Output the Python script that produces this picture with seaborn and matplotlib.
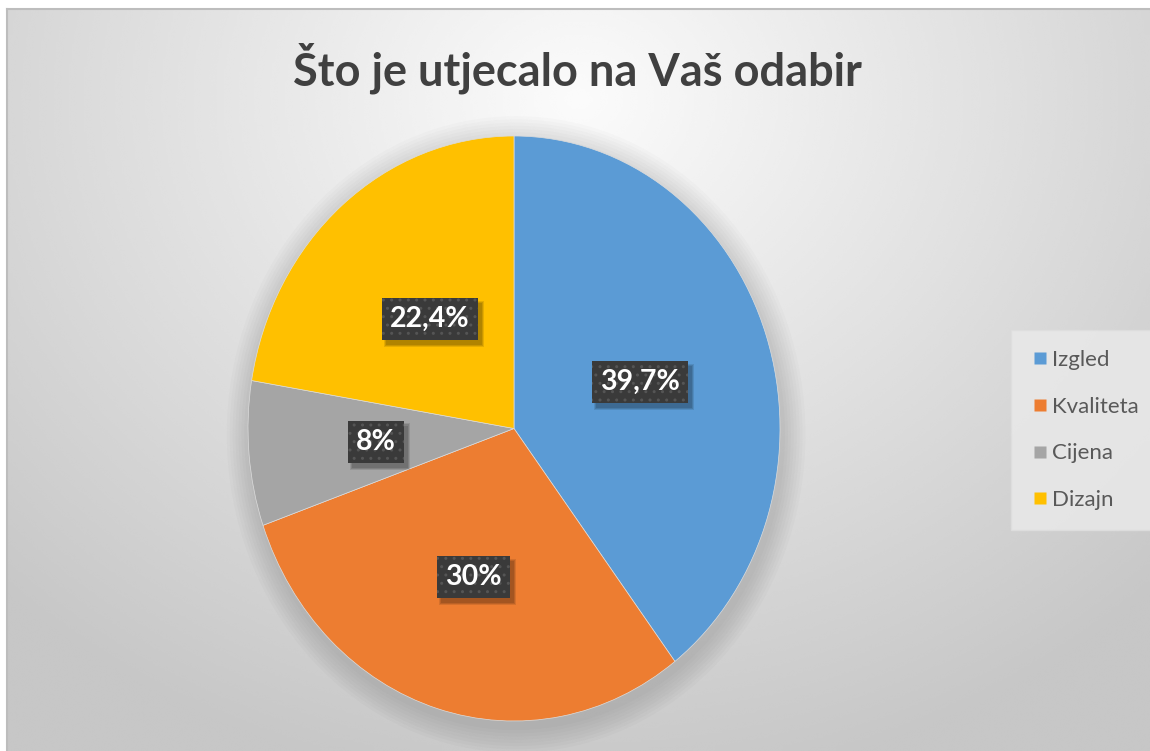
import numpy as np
import seaborn as sns
import matplotlib.pyplot as plt
from matplotlib.patches import Ellipse, Rectangle
from matplotlib.lines import Line2D

# data
categories = ['Izgled', 'Kvaliteta', 'Cijena', 'Dizajn']
shares = [39.7, 30.0, 8.0, 22.4]
pct_labels = ['39,7%', '30%', '8%', '22,4%']
slice_colors = ['#5b9bd5', '#ed7d31', '#a5a5a5', '#ffc000']
title_text = 'Što je utjecalo na Vaš odabir'

sns.set_theme(style='white')
# Lato is the closest installed match to the Calibri look of the original
plt.rcParams['font.family'] = ['Lato', 'DejaVu Sans']

W, H = 1150, 751
fig = plt.figure(figsize=(W / 100, H / 100), dpi=100)
fig.patch.set_facecolor('white')


def fx(px):
    return px / W


def fy(py):
    return 1 - py / H


# background with radial gradient (lighter near the top centre)
bg = fig.add_axes([fx(7), 0, 1 - fx(7), fy(9)])
yy, xx = np.mgrid[0:1:300j, 0:1:450j]
d = np.sqrt(((xx - 0.5) / 0.8) ** 2 + ((yy - 0.12) / 1.05) ** 2)
shade = np.clip(0.985 - 0.23 * d, 0.78, 1.0)
bg.imshow(shade, cmap='gray', vmin=0, vmax=1, aspect='auto',
          extent=[0, 1, 1, 0], interpolation='bicubic')
bg.set_xlim(0, 1)
bg.set_ylim(1, 0)
bg.set_xticks([])
bg.set_yticks([])
for side, sp in bg.spines.items():
    sp.set_visible(side in ('top', 'left'))
    sp.set_color('#bdbdbd')
    sp.set_linewidth(1.5)

# title
fig.text(fx(577), fy(68), title_text, ha='center', va='center',
         fontsize=32.5, fontweight='bold', color='#404040')

# pie (stretched into an ellipse like the original)
left, right, top, bottom = 248, 780, 136, 721
ax = fig.add_axes([fx(left), fy(bottom), fx(right - left), (bottom - top) / H])
ax.patch.set_alpha(0)

# soft shadow around the pie
for k in range(8):
    grow = 0.011 * (k + 1)
    ax.add_patch(Ellipse((0.008, -0.02), 2 + grow * 2, 2 + grow * 2,
                         facecolor='black', edgecolor='none', alpha=0.017,
                         zorder=0, clip_on=False))

wedges, _ = ax.pie(shares, colors=slice_colors, startangle=90, counterclock=False,
                   radius=1, wedgeprops=dict(linewidth=0.5, edgecolor='#dddddd'))
for w in wedges:
    w.set_zorder(2)
    w.set_clip_on(False)
ax.set_aspect('auto')
ax.set_xlim(-1, 1)
ax.set_ylim(-1, 1)
ax.axis('off')

# data labels in dark dotted boxes
total = sum(shares)
start = 90.0
label_r = [0.50, 0.53, 0.52, 0.49]
label_texts = []
for share, txt, r in zip(shares, pct_labels, label_r):
    mid = np.deg2rad(start - share / total * 360 / 2)
    start -= share / total * 360
    x, y = r * np.cos(mid), r * np.sin(mid)
    t = ax.text(x, y, txt, ha='center', va='center', fontsize=20.5, fontweight='bold',
                color='white', zorder=5,
                bbox=dict(boxstyle='square,pad=0.28', facecolor='#3a3a3a',
                          edgecolor='#555555', hatch='..', linewidth=0))
    label_texts.append(t)

# drop shadows behind the label boxes (placed once the boxes are laid out)
fig.canvas.draw()
inv = ax.transData.inverted()
for t in label_texts:
    ext = t.get_bbox_patch().get_window_extent()
    (x0, y0), (x1, y1) = inv.transform([(ext.x0 + 4, ext.y0 - 5), (ext.x1 + 4, ext.y1 - 5)])
    for k, a in enumerate([0.12, 0.12, 0.1]):
        grow = 0.004 * k
        ax.add_patch(Rectangle((x0 - grow, y0 - grow), x1 - x0 + 2 * grow, y1 - y0 + 2 * grow,
                               facecolor='black', edgecolor='none', alpha=a, zorder=4))

# legend
handles = [Line2D([], [], marker='s', linestyle='none', markersize=9,
                  markerfacecolor=c, markeredgecolor='none') for c in slice_colors]
leg = fig.legend(handles, categories, loc='center left',
                 bbox_to_anchor=(fx(1018), fy(430)), frameon=True, fontsize=16,
                 labelspacing=1.2, handletextpad=0.15, handlelength=0.8,
                 borderpad=0.6, borderaxespad=0, labelcolor='#595959')
leg.get_frame().set_facecolor('#e9e9e9')
leg.get_frame().set_edgecolor('#dedede')
leg.get_frame().set_boxstyle('square')
leg.get_frame().set_alpha(0.85)

fig.savefig('out.png', dpi=100)
